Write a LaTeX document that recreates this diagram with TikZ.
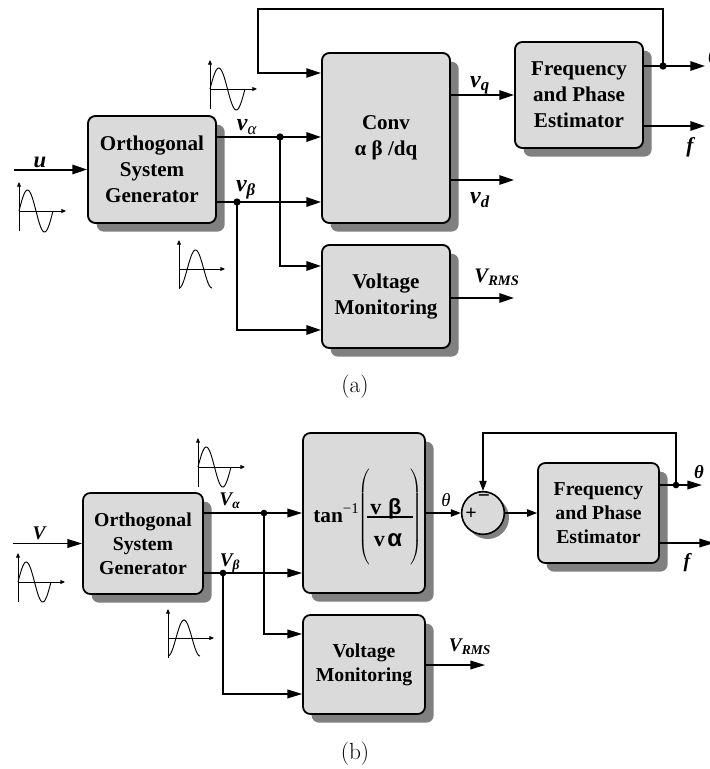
\documentclass[tikz,border=0pt]{standalone}
\usepackage{fontspec}
\usepackage{amsmath}
\setmainfont{Liberation Serif}
\setsansfont{Liberation Sans}
\newfontfamily\capfont{Latin Modern Roman}
\usetikzlibrary{arrows.meta,shadows}

\definecolor{boxfill}{RGB}{218,218,218}
\definecolor{shadowgray}{RGB}{128,128,128}

\tikzset{
  blkA/.style={draw, line width=1.4pt, rounded corners=5.5pt, fill=boxfill,
    align=center, inner sep=0pt, font=\bfseries\fontsize{15.8}{19.5}\selectfont,
    drop shadow={shadow xshift=6.5pt, shadow yshift=-6.5pt, fill=shadowgray, opacity=1}},
  blkB/.style={blkA, line width=1.3pt, font=\bfseries\fontsize{14.8}{18}\selectfont},
  sumB/.style={circle, draw, line width=1.2pt, fill=boxfill, minimum size=32pt, inner sep=0pt,
    drop shadow={shadow xshift=3.5pt, shadow yshift=-3.5pt, fill=shadowgray, opacity=1}},
  sigA/.style={line width=1.5pt, -{Triangle[length=11pt,width=7pt]}},
  fbA/.style={line width=1pt, -{Triangle[length=11pt,width=7pt]}},
  sigB/.style={line width=1.1pt, -{Triangle[length=11pt,width=6.5pt]}},
  sigBs/.style={line width=1.1pt, -{Triangle[length=7.5pt,width=5.5pt]}},
  fbB/.style={line width=0.8pt, -{Triangle[length=7.5pt,width=5.5pt]}},
  junct/.style={circle, fill=black, inner sep=0pt, minimum size=5.5pt},
  axis/.style={line width=0.7pt, -{Triangle[length=3.5pt,width=3pt]}},
  wave/.style={line width=0.7pt},
  lbl/.style={inner sep=0pt, font=\bfseries\itshape\fontsize{18}{20}\selectfont},
  lblB/.style={inner sep=0pt, font=\bfseries\itshape\fontsize{14.5}{17}\selectfont},
  formula/.style={inner sep=0pt, font=\bfseries\fontsize{16.5}{19}\selectfont},
  captext/.style={inner sep=0pt, font=\capfont\fontsize{17.5}{20}\selectfont}
}

% small signal sketches: origin x, origin y, period, amplitude
\newcommand{\sineicon}[4]{%
  \draw[axis] (#1,#2+20) -- (#1,#2-29);
  \draw[axis] (#1,#2) -- (#1+47,#2);
  \draw[wave] plot[domain=0:360,samples=49,smooth] ({#1+\x/360*#3},{#2-#4*sin(\x)});
}
\newcommand{\cosicon}[4]{%
  \draw[axis] (#1,#2+20) -- (#1,#2-29);
  \draw[axis] (#1,#2) -- (#1+46,#2);
  \draw[wave] plot[domain=0:360,samples=49,smooth] ({#1+\x/360*#3},{#2+#4*cos(\x)});
}

\begin{document}
\begin{tikzpicture}[x=0.75pt,y=-0.75pt]
\useasboundingbox (0,0) rectangle (710,769);

% ---------------- (a) ----------------
\node[blkA, minimum width=96pt, minimum height=80.25pt] (osgA) at (152,169.5) {Orthogonal\\System\\Generator};
\node[blkA, minimum width=96pt, minimum height=127.5pt] (convA) at (386,138) {Conv\\α β /dq};
\node[blkA, minimum width=96pt, minimum height=77.25pt] (vmA) at (386,296.5) {Voltage\\Monitoring};
\node[blkA, minimum width=96pt, minimum height=79.5pt] (freqA) at (579,95) {Frequency\\and Phase\\Estimator};

\coordinate (uin) at (14,169.5);
\coordinate (ja) at (280,137);
\coordinate (jb) at (237,202);
\coordinate (vdA) at (514,180);
\coordinate (thA) at (705,66);
\coordinate (jthA) at (663,66);
\coordinate (fA) at (705,126);
\coordinate (fbtopA) at (258,9);
\coordinate (vrA) at (514,298);

\draw[sigA] (uin) -- (osgA.west);
\draw[sigA] (osgA.east |- ja) -- (convA.west |- ja);
\draw[sigA] (osgA.east |- jb) -- (convA.west |- jb);
\draw[sigA] (ja) |- ([yshift=22.9pt]vmA.west);
\draw[sigA] (jb) |- ([yshift=-25.1pt]vmA.west);
\draw[sigA] (convA.east |- freqA.west) -- (freqA.west);
\draw[sigA] (convA.east |- vdA) -- (vdA);
\draw[sigA] (freqA.east |- thA) -- (thA);
\draw[sigA] (freqA.east |- fA) -- (fA);
\draw[fbA] (jthA) |- (fbtopA) |- ([yshift=48.75pt]convA.west);
\draw[sigA] (vmA.east |- vrA) -- (vrA);
\node[junct] at (ja) {};
\node[junct] at (jb) {};
\node[junct] at (jthA) {};

\node[lbl, font=\bfseries\itshape\fontsize{17}{20}\selectfont] (uA) at (40,162) {u};
\node[lbl] (vaA) at (247,127) {v\textsubscript{\mdseries α}};
\node[lbl] (vbA) at (246,190) {v\textsubscript{β}};
\node[lbl] (vqA) at (480,85) {v\textsubscript{q}};
\node[lbl] (vdlA) at (480,200) {v\textsubscript{d}};
\node[lbl, font=\itshape\fontsize{16}{18}\selectfont] (thlA) at (713,56) {θ};
\node[lbl, font=\bfseries\itshape\fontsize{16}{18}\selectfont] (flA) at (690,147) {f};
\node[lbl, font=\bfseries\itshape\fontsize{15.5}{18}\selectfont] (vrmsA) at (497,277) {V\textsubscript{RMS}};

\sineicon{19}{211}{34}{21}
\sineicon{210}{89}{35}{21}
\cosicon{179}{269}{33}{19}

\node[captext] (capA) at (355,387) {(a)};

% ---------------- (b) ----------------
\node[blkB, minimum width=90pt, minimum height=75.75pt] (osgB) at (143,543.5) {Orthogonal\\System\\Generator};
\node[blkB, minimum width=91.5pt, minimum height=120pt] (tanB) at (364,513) {};
% arctangent expression set piece by piece inside the block
\node[formula, anchor=base west, font=\bfseries\fontsize{16}{19}\selectfont] (tanlbl) at (313,522) {tan\textsuperscript{\mdseries −1}};
\node[inner sep=0pt] (lpar) at (365,517) {$\left(\vcenter{\hbox{\rule{0pt}{74pt}}}\right.$};
\node[inner sep=0pt] (rpar) at (416,517) {$\left.\vcenter{\hbox{\rule{0pt}{74pt}}}\right)$};
\draw[line width=0.9pt] (367,517) -- (413,517);
\node[formula, anchor=base] (numB) at (386,514) {v\kern5pt\textsf{β}};
\node[formula, anchor=base] (denB) at (388,546) {v\kern2pt{\sffamily\fontsize{18}{20}\selectfont α}};
\node[blkB, minimum width=91.5pt, minimum height=74.25pt] (vmB) at (364,664.5) {Voltage\\Monitoring};
\node[sumB] (sum) at (483,513) {};
\node[blkB, minimum width=90.75pt, minimum height=75pt] (freqB) at (598.5,513) {Frequency\\and Phase\\Estimator};

\coordinate (vin) at (13,543.5);
\coordinate (jc) at (264,513);
\coordinate (jd) at (223,573);
\coordinate (thB) at (702,485);
\coordinate (jthB) at (676,485);
\coordinate (fbtopB) at (483,433);
\coordinate (fB) at (714,543);
\coordinate (vrB) at (485,665);

\draw[sigB] (vin) -- (osgB.west);
\draw[sigB] (osgB.east |- jc) -- (tanB.west |- jc);
\draw[sigB] (osgB.east |- jd) -- (tanB.west |- jd);
\draw[sigB] (jc) |- ([yshift=22.9pt]vmB.west);
\draw[sigB] (jd) |- ([yshift=-22.1pt]vmB.west);
\draw[sigBs] (tanB.east) -- (sum.west);
\draw[sigBs] (sum.east) -- (freqB.west);
\draw[sigB] (freqB.east |- thB) -- (thB);
\draw[sigB] (freqB.east |- fB) -- (fB);
\draw[fbB] (jthB) |- (fbtopB) -- (sum.north);
\draw[sigB] (vmB.east |- vrB) -- (vrB);
\node[junct, minimum size=5pt] at (jc) {};
\node[junct, minimum size=5pt] at (jd) {};
\node[junct, minimum size=5pt] at (jthB) {};

\node[inner sep=0pt, font=\bfseries\fontsize{15}{15}\selectfont] (plus) at (471,514) {+};
\node[inner sep=0pt, font=\bfseries\fontsize{16}{16}\selectfont] (minus) at (484,499) {−};

\node[lblB] (vB) at (39,533) {V};
\node[lblB] (vaB) at (230,501) {V\textsubscript{α}};
\node[lblB] (vbB) at (230,563) {V\textsubscript{β}};
\node[lblB, font=\itshape\fontsize{14}{16}\selectfont] (th1B) at (446,500) {θ};
\node[lblB, font=\bfseries\itshape\fontsize{14}{16}\selectfont] (th2B) at (699,472) {θ};
\node[lblB, font=\bfseries\itshape\fontsize{15}{17}\selectfont] (flB) at (687,563) {f};
\node[lblB, font=\bfseries\itshape\fontsize{14.5}{17}\selectfont] (vrmsB) at (470,647) {V\textsubscript{RMS}};

\sineicon{18}{582}{33}{20}
\sineicon{198}{467}{33}{20}
\cosicon{168}{638}{32}{18}

\node[captext] (capB) at (355,754) {(b)};
\end{tikzpicture}
\end{document}
